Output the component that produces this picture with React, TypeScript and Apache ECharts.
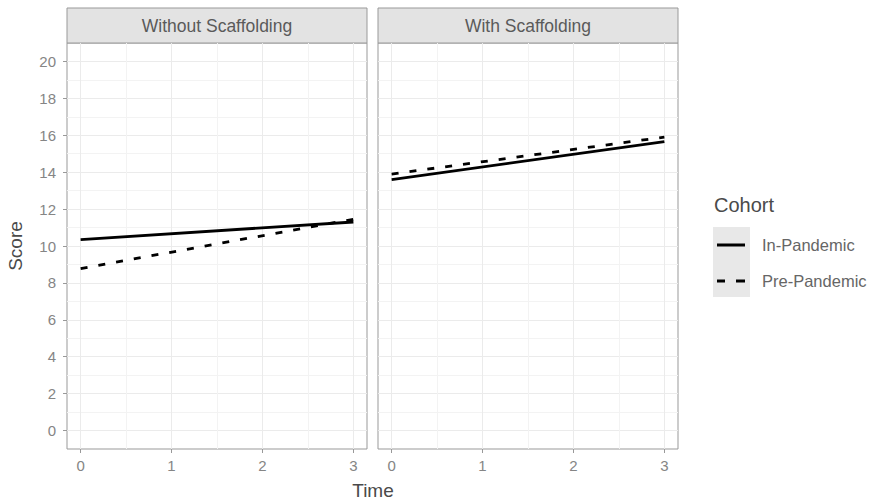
import React, { useEffect, useRef } from "react";
import * as echarts from "echarts";

const panels = ["Without Scaffolding", "With Scaffolding"];
const cohorts = ["In-Pandemic", "Pre-Pandemic"];
const times = [0, 3];
const withoutIn = [10.35, 11.3];
const withoutPre = [8.78, 11.45];
const withIn = [13.6, 15.65];
const withPre = [13.9, 15.9];
const xTicks = [0, 1, 2, 3];
const yTicks = [0, 2, 4, 6, 8, 10, 12, 14, 16, 18, 20];

const FONT = "Liberation Sans, Arial, sans-serif";
const BORDER = "#999999";
const GRIDC = "#ebebeb";
const MINORC = "#f3f3f3";
const TICKTEXT = "#858585";

const PANEL_LEFTS = [67, 378];
const PANEL_W = 300;
const PANEL_TOP = 43;
const PANEL_H = 406;

function pts(vals: number[]) {
  return times.map((t, i) => [t, vals[i]]);
}

export default function App() {
  const ref = useRef<HTMLDivElement>(null);
  useEffect(() => {
    if (!ref.current) return;
    const chart = echarts.init(ref.current, null, { renderer: "svg" });

    const xAxisBase = (gi: number) => ({
      type: "value",
      gridIndex: gi,
      min: -0.15,
      max: 3.15,
      minInterval: 1,
      maxInterval: 1,
      axisLine: { show: false, onZero: false },
      axisTick: { show: true, length: 4, lineStyle: { color: BORDER }, customValues: xTicks },
      axisLabel: {
        show: true,
        customValues: xTicks,
        color: TICKTEXT,
        fontSize: 15,
        fontFamily: FONT,
        margin: 9,
      },
      splitLine: { show: true, lineStyle: { color: GRIDC, width: 1 } },
      minorTick: { show: false, splitNumber: 2 },
      minorSplitLine: { show: true, lineStyle: { color: MINORC, width: 1 } },
    });

    const yAxisBase = (gi: number, labels: boolean) => ({
      type: "value",
      gridIndex: gi,
      min: -1,
      max: 21,
      minInterval: 2,
      maxInterval: 2,
      axisLine: { show: false, onZero: false },
      axisTick: { show: labels, length: 4, lineStyle: { color: BORDER }, customValues: yTicks },
      axisLabel: {
        show: labels,
        customValues: yTicks,
        color: TICKTEXT,
        fontSize: 15,
        fontFamily: FONT,
        margin: 11,
      },
      splitLine: { show: true, lineStyle: { color: GRIDC, width: 1 } },
      minorTick: { show: false, splitNumber: 2 },
      minorSplitLine: { show: true, lineStyle: { color: MINORC, width: 1 } },
      ...(labels
        ? {
            name: "Score",
            nameLocation: "middle",
            nameGap: 42,
            nameTextStyle: { color: "#4a4a4a", fontSize: 19, fontFamily: FONT },
          }
        : {}),
    });

    const mkSeries = (name: string, gi: number, vals: number[], dashed: boolean) => ({
      name,
      type: "line",
      xAxisIndex: gi,
      yAxisIndex: gi,
      data: pts(vals),
      symbol: "none",
      color: "#000",
      lineStyle: { color: "#000", width: 2.8, type: dashed ? [7, 11] : "solid" },
      z: dashed ? 3 : 2,
    });

    const strips: any[] = [];
    panels.forEach((p, i) => {
      strips.push({
        type: "rect",
        shape: { x: PANEL_LEFTS[i], y: 8, width: PANEL_W, height: 35 },
        style: { fill: "#e3e3e3", stroke: BORDER, lineWidth: 1 },
      });
      strips.push({
        type: "text",
        x: PANEL_LEFTS[i] + PANEL_W / 2,
        y: 26,
        style: {
          text: p,
          fill: "#5a5a5a",
          fontSize: 17.5,
          fontFamily: FONT,
          align: "center",
          verticalAlign: "middle",
        },
      });
    });

    chart.setOption({
      animation: false,
      backgroundColor: "#fff",
      grid: PANEL_LEFTS.map((l) => ({
        left: l,
        top: PANEL_TOP,
        width: PANEL_W,
        height: PANEL_H,
        show: true,
        backgroundColor: "#fff",
        borderColor: BORDER,
        borderWidth: 1,
      })),
      xAxis: [xAxisBase(0), xAxisBase(1)],
      yAxis: [yAxisBase(0, true), yAxisBase(1, false)],
      legend: {
        data: [
          { name: cohorts[0], icon: "path://M0 0h28v3H0z" },
          { name: cohorts[1], icon: "path://M0 0h8v3H0zM19 0h9v3h-9z" },
        ],
        orient: "vertical",
        left: 712,
        top: 231,
        itemWidth: 28,
        itemHeight: 3,
        itemGap: 18,
        itemStyle: { color: "#000" },
        textStyle: {
          color: "#666",
          fontSize: 16.5,
          lineHeight: 18,
          fontFamily: FONT,
          padding: [0, 0, 0, 12],
        },
      },
      graphic: [
        ...strips,
        {
          type: "rect",
          z: -1,
          shape: { x: 713, y: 227, width: 37, height: 70 },
          style: { fill: "#e8e8e8" },
        },
        {
          type: "text",
          x: 714,
          y: 205,
          style: {
            text: "Cohort",
            fill: "#4a4a4a",
            fontSize: 20,
            fontFamily: FONT,
            align: "left",
            verticalAlign: "middle",
          },
        },
        {
          type: "text",
          x: 373,
          y: 490,
          style: {
            text: "Time",
            fill: "#4a4a4a",
            fontSize: 19,
            fontFamily: FONT,
            align: "center",
            verticalAlign: "middle",
          },
        },
      ],
      series: [
        mkSeries(cohorts[0], 0, withoutIn, false),
        mkSeries(cohorts[1], 0, withoutPre, true),
        mkSeries(cohorts[0], 1, withIn, false),
        mkSeries(cohorts[1], 1, withPre, true),
      ],
    });
    return () => chart.dispose();
  }, []);
  return (
    <div
      ref={ref}
      style={{ position: "absolute", left: 0, top: 0, width: 879, height: 503 }}
    />
  );
}
